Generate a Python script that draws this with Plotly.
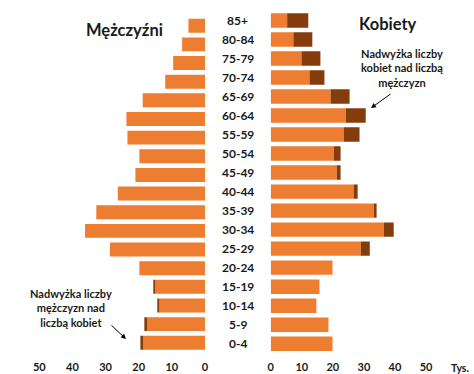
import plotly.graph_objects as go

W, H = 474, 374

age_groups = ["0-4", "5-9", "10-14", "15-19", "20-24", "25-29", "30-34", "35-39",
              "40-44", "45-49", "50-54", "55-59", "60-64", "65-69", "70-74",
              "75-79", "80-84", "85+"]

# thousands, listed from 0-4 upward
men_base = [18.6, 17.4, 13.8, 15.0, 19.8, 28.7, 36.2, 32.8, 26.3, 21.0, 19.8, 23.4,
            23.7, 18.8, 12.0, 9.6, 6.9, 5.0]
men_excess = [0.9, 0.9, 0.6, 0.6, 0, 0, 0, 0, 0, 0, 0, 0, 0, 0, 0, 0, 0, 0]
women_base = [19.9, 18.6, 14.7, 15.7, 19.9, 29.0, 36.4, 33.2, 26.7, 21.3, 20.3, 23.5,
              24.2, 19.3, 12.5, 9.9, 7.3, 5.3]
women_excess = [0, 0, 0, 0, 0, 2.9, 3.2, 0.9, 1.3, 1.2, 2.2, 5.1, 6.4, 6.1, 4.8,
                6.1, 6.1, 6.8]

left_ticks = [0, 10, 20, 30, 40, 50]
right_ticks = [0, 10, 20, 30, 40, 50]

ORANGE = "#ED7D31"
BROWN = "#843C0C"
TXT = "#1a1a1a"
FONT = "Lato"

ypos = list(range(len(age_groups)))

def px_x(p):
    return p / W

def px_y(p):
    return (H - p) / H

fig = go.Figure()

fig.add_trace(go.Bar(y=ypos, x=men_base, base=0, orientation="h", width=0.75,
                     marker=dict(color=ORANGE, line=dict(width=0)),
                     xaxis="x", yaxis="y", showlegend=False, hoverinfo="skip"))
fig.add_trace(go.Bar(y=ypos, x=men_excess, base=men_base, orientation="h", width=0.75,
                     marker=dict(color=BROWN, line=dict(width=0)),
                     xaxis="x", yaxis="y", showlegend=False, hoverinfo="skip"))
fig.add_trace(go.Bar(y=ypos, x=women_base, base=0, orientation="h", width=0.76,
                     marker=dict(color=ORANGE, line=dict(width=0)),
                     xaxis="x2", yaxis="y2", showlegend=False, hoverinfo="skip"))
fig.add_trace(go.Bar(y=ypos, x=women_excess, base=women_base, orientation="h", width=0.76,
                     marker=dict(color=BROWN, line=dict(width=0)),
                     xaxis="x2", yaxis="y2", showlegend=False, hoverinfo="skip"))

tickfont = dict(family=FONT, size=11, color=TXT, weight="bold")

fig.update_layout(
    width=W, height=H,
    margin=dict(l=0, r=0, t=0, b=0),
    paper_bgcolor="white", plot_bgcolor="white",
    barmode="overlay",
    xaxis=dict(domain=[px_x(39.3), px_x(205)], range=[50, 0], tickvals=left_ticks,
               showgrid=False, zeroline=False, showline=False, ticks="",
               anchor="free", position=px_y(359), tickfont=tickfont, automargin=False),
    yaxis=dict(domain=[px_y(352.1), px_y(16.4)], range=[-0.5, 17.5],
               showgrid=False, zeroline=False, showline=False, showticklabels=False,
               anchor="x"),
    xaxis2=dict(domain=[px_x(270.7), px_x(426)], range=[0, 50], tickvals=right_ticks,
                showgrid=False, zeroline=False, showline=False, ticks="",
                anchor="free", position=px_y(359), tickfont=tickfont, automargin=False),
    yaxis2=dict(domain=[px_y(353.2), px_y(11.0)], range=[-0.5, 17.5],
                showgrid=False, zeroline=False, showline=False, showticklabels=False,
                anchor="x2"),
)

ann = []
for i, g in enumerate(age_groups):
    ann.append(dict(x=px_x(237.5), xref="paper", y=i, yref="y2", text=g, showarrow=False,
                    font=dict(family=FONT, size=12, color=TXT, weight="bold"),
                    xanchor="center", yanchor="middle"))

ann.append(dict(x=px_x(124.5), y=px_y(30.5), xref="paper", yref="paper", text="Mężczyźni",
                showarrow=False, font=dict(family=FONT, size=16.5, color=TXT, weight="bold"),
                xanchor="center", yanchor="middle"))
ann.append(dict(x=px_x(388), y=px_y(24), xref="paper", yref="paper", text="Kobiety",
                showarrow=False, font=dict(family=FONT, size=16.5, color=TXT, weight="bold"),
                xanchor="center", yanchor="middle"))
ann.append(dict(x=px_x(402), y=px_y(68.5), xref="paper", yref="paper",
                text="Nadwyżka liczby<br>kobiet nad liczbą<br>mężczyzn",
                showarrow=False, align="center",
                font=dict(family=FONT, size=11, color=TXT, weight="bold"),
                xanchor="center", yanchor="middle"))
ann.append(dict(x=px_x(70.5), y=px_y(307.5), xref="paper", yref="paper",
                text="Nadwyżka liczby<br>mężczyzn nad<br>liczbą kobiet",
                showarrow=False, align="center",
                font=dict(family=FONT, size=11, color=TXT, weight="bold"),
                xanchor="center", yanchor="middle"))
ann.append(dict(x=px_x(460), y=px_y(368), xref="paper", yref="paper", text="Tys.",
                showarrow=False, font=dict(family=FONT, size=10.5, color=TXT, weight="bold"),
                xanchor="center", yanchor="middle"))
# arrows
ann.append(dict(x=px_x(371), y=px_y(108), xref="paper", yref="paper", text="",
                showarrow=True, arrowhead=2, arrowsize=1, arrowwidth=1, arrowcolor="black",
                ax=21, ay=-15, standoff=0))
ann.append(dict(x=px_x(126), y=px_y(339), xref="paper", yref="paper", text="",
                showarrow=True, arrowhead=2, arrowsize=1, arrowwidth=1, arrowcolor="black",
                ax=-16, ay=-15, standoff=0))

fig.update_layout(annotations=ann)

fig.write_html("out.html", config={"displayModeBar": False},
               post_script="document.body.style.margin='0';")
